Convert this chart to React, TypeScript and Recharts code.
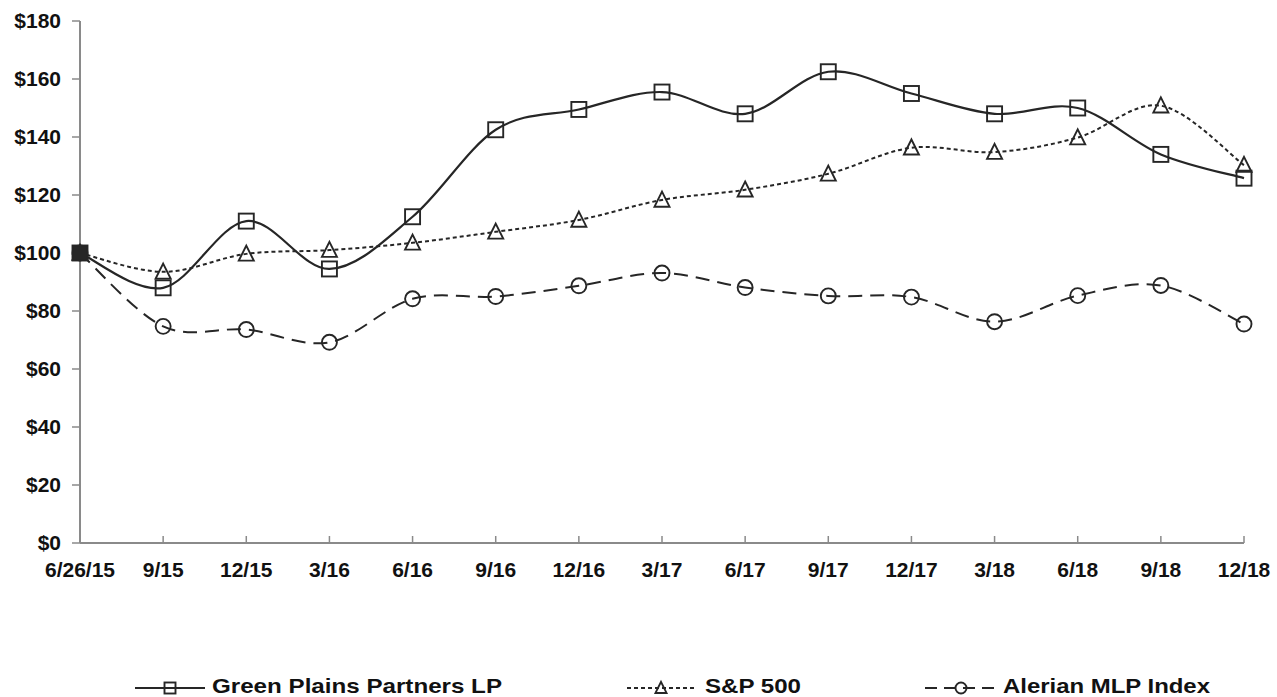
import React from "react";
import { LineChart, Line, XAxis, YAxis } from "recharts";

const categories = ["6/26/15", "9/15", "12/15", "3/16", "6/16", "9/16", "12/16", "3/17", "6/17", "9/17", "12/17", "3/18", "6/18", "9/18", "12/18"];
const greenPlains = [100, 88, 111, 94.5, 112.5, 142.5, 149.5, 155.5, 148, 162.5, 155, 148, 150, 134, 125.8];
const sp500 = [100, 93.5, 99.7, 101, 103.5, 107.3, 111.4, 118.3, 121.8, 127.3, 136.3, 134.8, 139.8, 150.8, 130.3];
const alerian = [100, 74.7, 73.6, 69.2, 84.2, 85, 88.7, 93.1, 88.1, 85.2, 84.8, 76.3, 85.3, 88.8, 75.5];
const yTicks = [0, 20, 40, 60, 80, 100, 120, 140, 160, 180];
const seriesNames = ["Green Plains Partners LP", "S&P 500", "Alerian MLP Index"];

const data = categories.map((c, i) => ({ label: c, gp: greenPlains[i], sp: sp500[i], am: alerian[i] }));

const INK = "#262626";
const AXIS = "#8a8a8a";
const FONT = "Arial, 'Liberation Sans', sans-serif";

function excelCurve(context: any) {
  let pts: [number, number][] = [];
  return {
    areaStart() {},
    areaEnd() {},
    lineStart() {
      pts = [];
    },
    point(x: number, y: number) {
      pts.push([+x, +y]);
    },
    lineEnd() {
      const n = pts.length;
      if (!n) return;
      context.moveTo(pts[0][0], pts[0][1]);
      const t = 1 / 6;
      for (let i = 0; i < n - 1; i++) {
        const p0 = pts[i - 1] || pts[i];
        const p1 = pts[i];
        const p2 = pts[i + 1];
        const p3 = pts[i + 2] || p2;
        context.bezierCurveTo(
          p1[0] + (p2[0] - p0[0]) * t,
          p1[1] + (p2[1] - p0[1]) * t,
          p2[0] - (p3[0] - p1[0]) * t,
          p2[1] - (p3[1] - p1[1]) * t,
          p2[0],
          p2[1]
        );
      }
    },
  };
}

const SquareMark = ({ cx, cy, s = 15, filled = false }: any) => (
  <rect x={cx - s / 2} y={cy - s / 2} width={s} height={s} fill={filled ? INK : "none"} stroke={INK} strokeWidth={1.9} />
);
const TriMark = ({ cx, cy, s = 15 }: any) => (
  <polygon
    points={`${cx},${cy - s * 0.55} ${cx + s / 2},${cy + s * 0.45} ${cx - s / 2},${cy + s * 0.45}`}
    fill="none"
    stroke={INK}
    strokeWidth={1.9}
    strokeLinejoin="miter"
  />
);
const CircleMark = ({ cx, cy, r = 7.5 }: any) => (
  <circle cx={cx} cy={cy} r={r} fill="none" stroke={INK} strokeWidth={1.9} />
);

const dotKey = (p: any, pre: string) => `${pre}-${p.index}`;

const LegendBlock = () => {
  const y = 688;
  return (
    <svg width={1277} height={697} style={{ position: "absolute", left: 0, top: 0, pointerEvents: "none" }}>
      <line x1={135} y1={y} x2={205} y2={y} stroke={INK} strokeWidth={2} />
      <SquareMark cx={170} cy={y} s={11} />
      <text x={212} y={693} fontFamily={FONT} fontWeight="bold" fontSize={21} fill="#111" textLength={290} lengthAdjust="spacingAndGlyphs">
        {seriesNames[0]}
      </text>
      <line x1={627} y1={y} x2={695} y2={y} stroke={INK} strokeWidth={2} strokeDasharray="4 3" />
      <TriMark cx={661} cy={y} s={11} />
      <text x={705} y={693} fontFamily={FONT} fontWeight="bold" fontSize={21} fill="#111" textLength={96} lengthAdjust="spacingAndGlyphs">
        {seriesNames[1]}
      </text>
      <line x1={925} y1={y} x2={997} y2={y} stroke={INK} strokeWidth={2} strokeDasharray="12 7" />
      <CircleMark cx={961} cy={y} r={5.5} />
      <text x={1003} y={693} fontFamily={FONT} fontWeight="bold" fontSize={21} fill="#111" textLength={207} lengthAdjust="spacingAndGlyphs">
        {seriesNames[2]}
      </text>
    </svg>
  );
};

export default function App() {
  return (
    <div style={{ position: "absolute", left: 0, top: 0, width: 1277, height: 697, background: "#fff" }}>
      <LineChart width={1277} height={697} data={data} margin={{ top: 21, right: 33, left: 0, bottom: 124 }}>
        <XAxis
          dataKey="label"
          interval={0}
          height={30}
          axisLine={{ stroke: AXIS, strokeWidth: 2 }}
          tickLine={{ stroke: AXIS, strokeWidth: 1.5 }}
          tickSize={-7}
          tickMargin={26}
          tick={{ fill: "#111", fontSize: 21, fontWeight: "bold", fontFamily: FONT }}
        />
        <YAxis
          width={80}
          domain={[0, 180]}
          ticks={yTicks}
          interval={0}
          tickFormatter={(v: number) => `$${v}`}
          axisLine={{ stroke: AXIS, strokeWidth: 2 }}
          tickLine={{ stroke: AXIS, strokeWidth: 1.5 }}
          tickSize={8}
          tickMargin={11}
          tick={{ fill: "#111", fontSize: 21, fontWeight: "bold", fontFamily: FONT }}
        />
        <Line
          dataKey="am"
          name={seriesNames[2]}
          type={excelCurve as any}
          stroke={INK}
          strokeWidth={2}
          strokeDasharray="14 8"
          isAnimationActive={false}
          dot={(p: any) => <CircleMark key={dotKey(p, "am")} cx={p.cx} cy={p.cy} />}
        />
        <Line
          dataKey="sp"
          name={seriesNames[1]}
          type={excelCurve as any}
          stroke={INK}
          strokeWidth={2}
          strokeDasharray="4 3"
          isAnimationActive={false}
          dot={(p: any) => <TriMark key={dotKey(p, "sp")} cx={p.cx} cy={p.cy} />}
        />
        <Line
          dataKey="gp"
          name={seriesNames[0]}
          type={excelCurve as any}
          stroke={INK}
          strokeWidth={2.2}
          isAnimationActive={false}
          dot={(p: any) => <SquareMark key={dotKey(p, "gp")} cx={p.cx} cy={p.cy} filled={p.index === 0} />}
        />
      </LineChart>
      <LegendBlock />
    </div>
  );
}
